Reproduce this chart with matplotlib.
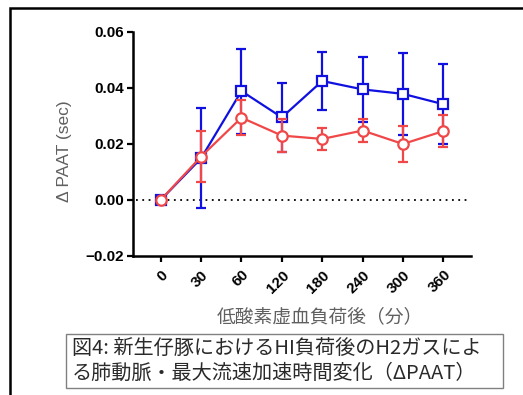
import matplotlib
matplotlib.use('Agg')
import matplotlib.pyplot as plt
import matplotlib.patches as mpatches
import numpy as np

times = ['0', '30', '60', '120', '180', '240', '300', '360']
blue_mean = [0.0, 0.0149, 0.0389, 0.0295, 0.0425, 0.0395, 0.0379, 0.0342]
blue_err = [0.0, 0.0178, 0.0152, 0.0123, 0.0103, 0.0115, 0.0147, 0.0143]
red_mean = [0.0, 0.0155, 0.0294, 0.0230, 0.0218, 0.0248, 0.0200, 0.0246]
red_err = [0.0, 0.0090, 0.0063, 0.0060, 0.0039, 0.0040, 0.0065, 0.0058]
yticks = [-0.02, 0.00, 0.02, 0.04, 0.06]
ytick_labels = ['\u22120.02', '0.00', '0.02', '0.04', '0.06']

cjk = ['Noto Sans CJK JP', 'DejaVu Sans']
num_font = 'Liberation Sans'

fig = plt.figure(figsize=(5.23, 3.95), dpi=100)
ax = fig.add_axes([0.254, 0.352, 0.647, 0.567])

x = np.arange(len(times))
blue = '#1010e0'
red = '#f04848'

ax.axhline(0, color='black', linestyle=(0, (1, 2.5)), linewidth=1.3, xmin=0.01, xmax=0.99, zorder=1)

ax.errorbar(x, blue_mean, yerr=blue_err, color=blue, linewidth=1.6, elinewidth=1.6,
            capsize=3.5, capthick=1.6, marker='s', markersize=7.5, markerfacecolor='white',
            markeredgecolor=blue, markeredgewidth=1.6, zorder=3)
ax.errorbar(x, red_mean, yerr=red_err, color=red, linewidth=1.6, elinewidth=1.6,
            capsize=3.5, capthick=1.6, marker='o', markersize=7.5, markerfacecolor='white',
            markeredgecolor=red, markeredgewidth=1.6, zorder=4)

ax.set_xlim(-0.69, 7.69)
ax.set_ylim(-0.02, 0.06)
ax.set_yticks(yticks)
ax.set_yticklabels(ytick_labels, family=num_font, fontweight='bold', fontsize=11)
ax.set_xticks(x)
ax.set_xticklabels(times, rotation=45, ha='right', rotation_mode='anchor',
                   family=num_font, fontweight='bold', fontsize=11)

for s in ['top', 'right']:
    ax.spines[s].set_visible(False)
for s in ['left', 'bottom']:
    ax.spines[s].set_linewidth(1.8)
ax.tick_params(width=1.6, length=4.5, direction='out', pad=2)
ax.tick_params(axis='x', pad=4)

ax.set_ylabel('\u0394 PAAT (sec)', family=['Liberation Sans', 'DejaVu Sans'], fontsize=12.5,
              color='#606060')
ax.yaxis.set_label_coords(-0.18, 0.47)
fig.text(0.612, 0.197, '低酸素虚血負荷後（分）', family=cjk, fontsize=13.5, color='#606060',
         ha='center', va='center')

# outer frame
frame = mpatches.Rectangle((10 / 523, -0.1), 1.2, 1.1 - 8 / 395, transform=fig.transFigure,
                           fill=False, edgecolor='black', linewidth=1.8)
fig.patches.append(frame)

# caption box
cap = mpatches.Rectangle((66 / 523, 1 - 388 / 395), (503 - 66) / 523, (388 - 334) / 395,
                         transform=fig.transFigure, fill=False, edgecolor='#808080', linewidth=1.0)
fig.patches.append(cap)
fig.text(72 / 523, 1 - 348 / 395, '図4: 新生仔豚におけるHI負荷後のH2ガスによ', family=cjk,
         fontsize=14.5, color='#2a2a2a', ha='left', va='center')
fig.text(72 / 523, 1 - 373 / 395, 'る肺動脈・最大流速加速時間変化（ΔPAAT）', family=cjk,
         fontsize=14.5, color='#2a2a2a', ha='left', va='center')

fig.savefig('out.png', dpi=100)
